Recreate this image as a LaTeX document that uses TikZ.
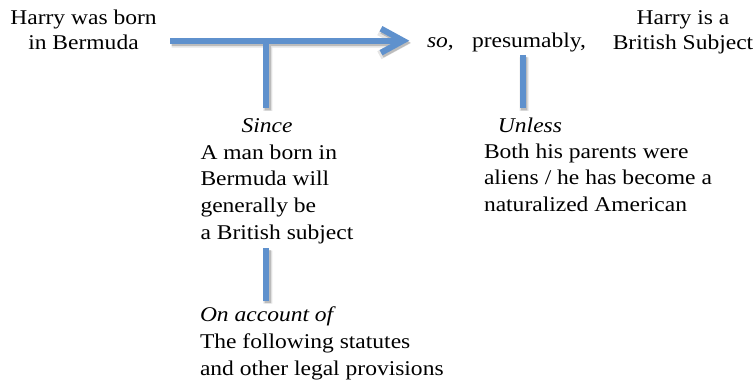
\documentclass[tikz,border=0pt]{standalone}
\usepackage{fontspec}
\setmainfont{Liberation Serif}[FakeStretch=1.12]
\usetikzlibrary{arrows.meta}
\definecolor{linkblue}{RGB}{95,145,205}

\begin{document}
\begin{tikzpicture}[x=1pt,y=-1pt,
  txt/.style={inner sep=0pt, outer sep=0pt, font=\fontsize{21}{26.8}\selectfont},
  toptxt/.style={txt, font=\fontsize{21}{25}\selectfont},
  link/.style={draw=linkblue, line width=6pt, line cap=butt},
  linktip/.style={-{Straight Barb[length=22pt,width=24pt]}},
  shadeA/.style={draw=black, line width=9pt, line cap=butt},
  shadeB/.style={draw=black, line width=6.5pt, line cap=butt}
]
\useasboundingbox (0,0) rectangle (755,385);

% statements (multi-line nodes are placed by the baseline of their last line)
\node[toptxt, align=center, anchor=base] (data) at (83.5,50) {Harry was born\\in Bermuda};
\node[toptxt, align=center, anchor=base] (claim) at (683,50) {Harry is a\\British Subject};
\node[txt, anchor=base west] (so) at (427,48) {\textit{so},};
\node[txt, anchor=base west] (qualifier) at (472,48) {presumably,};
\node[txt, anchor=base] (since) at (267,133) {\textit{Since}};
\node[txt, align=left, anchor=base west] (warrant) at (200.5,239.4)
  {A man born in\\Bermuda will\\generally be\\a British subject};
\node[txt, anchor=base west] (onaccount) at (200,321.7) {\textit{On account of}};
\node[txt, align=left, anchor=base west] (backing) at (200,375)
  {The following statutes\\and other legal provisions};
\node[txt, anchor=base] (unless) at (530,133) {\textit{Unless}};
\node[txt, align=left, anchor=base west] (rebuttal) at (484,211.6)
  {Both his parents were\\aliens / he has become a\\naturalized American};

% connector end points
\coordinate (arrowStart) at (170,40.7);
\coordinate (arrowTip) at (409.3,40.7);
\coordinate (warrantJoin) at (266.3,40.7);
\coordinate (warrantEnd) at (266.3,108.3);
\coordinate (backingTop) at (266.3,248);
\coordinate (backingEnd) at (266.3,301);
\coordinate (rebuttalTop) at (522.5,55);
\coordinate (rebuttalEnd) at (522.5,108.3);

% soft shadows under the connectors
\begin{scope}[transparency group, opacity=0.10, transform canvas={shift={(1.5pt,-2.5pt)}}]
  \draw[shadeA, linktip] (arrowStart) -- (arrowTip);
  \draw[shadeA] (warrantJoin) -- (warrantEnd);
  \draw[shadeA] (backingTop) -- (backingEnd);
  \draw[shadeA] (rebuttalTop) -- (rebuttalEnd);
\end{scope}
\begin{scope}[transparency group, opacity=0.18, transform canvas={shift={(1.5pt,-2pt)}}]
  \draw[shadeB, linktip] (arrowStart) -- (arrowTip);
  \draw[shadeB] (warrantJoin) -- (warrantEnd);
  \draw[shadeB] (backingTop) -- (backingEnd);
  \draw[shadeB] (rebuttalTop) -- (rebuttalEnd);
\end{scope}

% connectors
\draw[link, linktip] (arrowStart) -- (arrowTip);
\draw[link] (warrantJoin) -- (warrantEnd);
\draw[link] (backingTop) -- (backingEnd);
\draw[link] (rebuttalTop) -- (rebuttalEnd);
\end{tikzpicture}
\end{document}
